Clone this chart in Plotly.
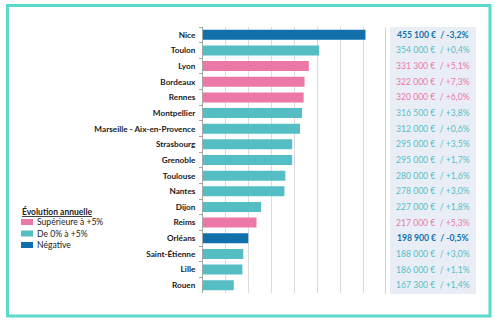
import plotly.graph_objects as go

cities = ["Nice", "Toulon", "Lyon", "Bordeaux", "Rennes", "Montpellier",
          "Marseille - Aix-en-Provence", "Strasbourg", "Grenoble", "Toulouse",
          "Nantes", "Dijon", "Reims", "Orléans", "Saint-Étienne", "Lille", "Rouen"]
prices = [455100, 354000, 331300, 322000, 320000, 316500, 312000, 295000, 295000,
          280000, 278000, 227000, 217000, 198900, 188000, 186000, 167300]
evolution = [-3.2, 0.4, 5.1, 7.3, 6.0, 3.8, 0.6, 3.5, 1.7, 1.6, 3.0, 1.8, 5.3, -0.5,
             3.0, 1.1, 1.4]

legend_title = "Évolution annuelle"
legend_labels = ["Supérieure à +5%", "De 0% à +5%", "Négative"]
PINK, TEAL, BLUE = "#ec78a8", "#55bec5", "#1170ab"
legend_colors = [PINK, TEAL, BLUE]

W, H = 495, 324
ML, MR, MT, MB = 203, 109, 27, 31
PW, PH = W - ML - MR, H - MT - MB


def px(x):
    return (x - ML) / PW


def py(y):
    return (H - MB - y) / PH


def color_for(e):
    if e < 0:
        return BLUE
    if e > 5:
        return PINK
    return TEAL


def fmt_label(v, e):
    num = f"{v:,}".replace(",", " ")
    pct = f"{e:+.1f}".replace(".", ",")
    return f"{num} €  / {pct}%"


colors = [color_for(e) for e in evolution]

fig = go.Figure()
fig.add_trace(go.Bar(
    x=prices, y=cities, orientation="h",
    marker=dict(color=colors, line=dict(width=0)),
    width=0.64, showlegend=False, hoverinfo="skip",
))

shapes = []
# value panel
shapes.append(dict(type="rect", xref="paper", yref="paper",
                   x0=px(390), x1=px(476), y0=py(294), y1=1,
                   fillcolor="#e9eef6", line=dict(width=0), layer="below"))
# separator line at axis end
shapes.append(dict(type="line", xref="x", yref="paper", x0=500000, x1=500000,
                   y0=py(294), y1=1, line=dict(color="#c4c4c4", width=1.5)))
# outer border
shapes.append(dict(type="rect", xref="paper", yref="paper",
                   x0=px(7.5), x1=px(490), y0=py(316), y1=py(5.5),
                   line=dict(color="#5adacb", width=3), fillcolor="rgba(0,0,0,0)"))

annotations = []
for c, v, e, col in zip(cities, prices, evolution, colors):
    txt = fmt_label(v, e)
    if e < 0:
        txt = f"<b>{txt}</b>"
    annotations.append(dict(xref="paper", yref="y", x=px(433), y=c, text=txt,
                            showarrow=False, xanchor="center",
                            font=dict(family="Lato", size=8.6, color=col)))

# manual legend
annotations.append(dict(xref="paper", yref="paper", x=px(20), y=py(211),
                        text=f"<b><u>{legend_title}</u></b>", showarrow=False,
                        xanchor="left", yanchor="middle",
                        font=dict(family="Lato", size=8.5, color="#222222")))
sw_y = [222, 233.5, 245]
for lab, col, yy in zip(legend_labels, legend_colors, sw_y):
    shapes.append(dict(type="rect", xref="paper", yref="paper",
                       x0=px(21), x1=px(33), y0=py(yy + 3), y1=py(yy - 3),
                       fillcolor=col, line=dict(width=0)))
    annotations.append(dict(xref="paper", yref="paper", x=px(34.5), y=py(yy),
                            text=lab, showarrow=False, xanchor="left",
                            yanchor="middle",
                            font=dict(family="Lato", size=8.6, color="#222222")))

fig.update_layout(
    width=W, height=H,
    margin=dict(l=ML, r=MR, t=MT, b=MB, pad=0),
    paper_bgcolor="white", plot_bgcolor="white",
    shapes=shapes, annotations=annotations,
    bargap=0.36,
    font=dict(family="Lato", size=8, color="#1a1a1a"),
    xaxis=dict(range=[100000, 500000], dtick=50000, tick0=100000,
               showgrid=True, gridcolor="#dadada", gridwidth=1,
               showticklabels=False, zeroline=False, showline=False,
               fixedrange=True),
    yaxis=dict(categoryorder="array", categoryarray=cities, autorange="reversed",
               showline=True, linecolor="#a6a6a6", linewidth=1,
               ticks="outside", ticklen=3, tickcolor="#a6a6a6", tickson="boundaries",
               tickfont=dict(family="Lato", size=8.2, color="#1a1a1a", weight="bold"),
               ticklabelstandoff=5, showgrid=False, fixedrange=True),
)

fig.write_html("out.html")
